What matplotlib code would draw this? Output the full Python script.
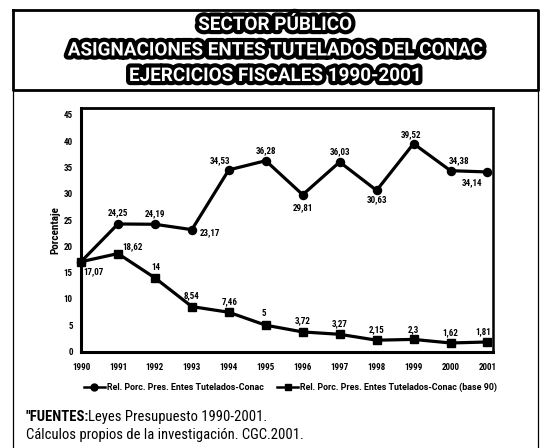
import matplotlib
matplotlib.use('Agg')
import matplotlib.pyplot as plt
from matplotlib import font_manager as fm
from matplotlib.lines import Line2D
import matplotlib.patheffects as pe

# ---------------- data ----------------
years = [1990, 1991, 1992, 1993, 1994, 1995, 1996, 1997, 1998, 1999, 2000, 2001]
rel_conac = [17.07, 24.25, 24.19, 23.17, 34.53, 36.28, 29.81, 36.03, 30.63, 39.52, 34.38, 34.14]
rel_base90 = [17.07, 18.62, 14, 8.54, 7.46, 5, 3.72, 3.27, 2.15, 2.3, 1.62, 1.81]
yticks = [0, 5, 10, 15, 20, 25, 30, 35, 40, 45]
series_names = ["Rel. Porc. Pres. Entes Tutelados-Conac",
                "Rel. Porc. Pres. Entes Tutelados-Conac (base 90)"]
title_lines = ["SECTOR PÚBLICO",
               "ASIGNACIONES ENTES TUTELADOS DEL CONAC",
               "EJERCICIOS FISCALES 1990-2001"]
ylabel = "Porcentaje"
foot_bold = '"FUENTES:'
foot_rest = 'Leyes Presupuesto 1990-2001.'
foot_line2 = 'Cálculos propios de la investigación. CGC.2001.'

# ---------------- fonts ----------------
avail = {f.name for f in fm.fontManager.ttflist}
def pick(cands, default='DejaVu Sans'):
    for c in cands:
        if c in avail:
            return c
    return default

COND = pick(['Roboto Condensed', 'Arial Narrow', 'Liberation Sans Narrow',
             'Archivo Narrow', 'PT Sans Narrow'])
WIDE = pick(['Roboto', 'Liberation Sans', 'DejaVu Sans'])
stretch = 'condensed' if COND == 'DejaVu Sans' else 'normal'

W, H = 546, 448
fig = plt.figure(figsize=(W / 100, H / 100), dpi=100)

def fx(px):
    return px / W

def fy(py):
    return 1 - py / H

# ---------------- frames ----------------
def fline(xs, ys, lw):
    fig.add_artist(Line2D([fx(x) for x in xs], [fy(y) for y in ys],
                          transform=fig.transFigure, color='black', lw=lw,
                          solid_capstyle='projecting'))

fline([12.7, 12.7], [90, 448], 0.9)
fline([537.7, 537.7], [90, 448], 0.9)
fline([12.7, 537.7, 537.7, 12.7, 12.7], [10, 10, 90.5, 90.5, 10], 2.0)

# ---------------- title ----------------
for i, t in enumerate(title_lines):
    fig.text(fx(275), fy(25 + 25.5 * i), t, ha='center', va='center',
             color='white', fontsize=13.6, fontweight='bold', family=WIDE,
             path_effects=[pe.withStroke(linewidth=6, foreground='black',
                                         joinstyle='round')])

# ---------------- axes ----------------
ax = fig.add_axes([fx(81), fy(351.5), fx(493) - fx(81), fy(108) - fy(351.5)])
ax.plot(years, rel_conac, color='black', lw=2.3, marker='o', ms=5.8,
        label=series_names[0], clip_on=False, zorder=3)
ax.plot(years, rel_base90, color='black', lw=2.3, marker='s', ms=6,
        label=series_names[1], clip_on=False, zorder=3)
ax.set_xlim(1990, 2001.15)
ax.set_ylim(0, 46.3)
ax.set_yticks(yticks)
ax.set_xticks(years)
lab_font = dict(family=COND, fontweight='bold', fontsize=6.5, fontstretch=stretch)
ax.set_yticklabels([str(v) for v in yticks], **lab_font)
ax.set_xticklabels([str(v) for v in years], **lab_font)
ax.tick_params(axis='both', length=0)
ax.tick_params(axis='y', pad=6)
ax.tick_params(axis='x', pad=8)
for side, lw in [('left', 2.2), ('bottom', 2.2), ('top', 2.0), ('right', 1.8)]:
    ax.spines[side].set_linewidth(lw)
ax.set_ylabel(ylabel, family=COND, fontweight='bold', fontsize=8,
              fontstretch=stretch, labelpad=2)

def fmt(v):
    return f"{v:g}".replace('.', ',')

off1 = [(12, -10), (0, 11), (0, 11), (18, -3), (-9, 9), (0, 10),
        (0, -13), (0, 10), (0, -9), (-3, 9), (9, 10), (-15, -11)]
off2 = [None, (15, 7), (1, 10), (0, 11), (1, 11), (-2, 12),
        (0, 11), (0, 11), (0, 10), (0, 10), (0, 10), (-4, 10)]
for x, v, o in zip(years, rel_conac, off1):
    ax.annotate(fmt(v), (x, v), xytext=o, textcoords='offset pixels',
                ha='center', va='center', **lab_font)
for x, v, o in zip(years, rel_base90, off2):
    if o is None:
        continue
    ax.annotate(fmt(v), (x, v), xytext=o, textcoords='offset pixels',
                ha='center', va='center', **lab_font)

# ---------------- legend ----------------
leg = fig.legend(loc='center', bbox_to_anchor=(fx(290.5), fy(387)), ncol=2,
                 frameon=False, handlelength=2.4, columnspacing=1.45,
                 handletextpad=0.22, borderpad=0, borderaxespad=0,
                 prop=dict(family=WIDE, weight='bold', size=6.4))
for h in leg.legend_handles:
    h.set_linewidth(1.8)
    h.set_markersize(5)

# ---------------- footnote ----------------
t1 = fig.text(fx(26), fy(417), foot_bold, ha='left', va='center',
              family=COND, fontweight='bold', fontsize=10.5, fontstretch=stretch)
fig.canvas.draw()
bb = t1.get_window_extent()
fig.text((bb.x1 - 1) / W, fy(417), foot_rest, ha='left', va='center',
         family=COND, fontsize=10.5, fontstretch=stretch)
fig.text(fx(26), fy(435), foot_line2, ha='left', va='center',
         family=COND, fontsize=10.5, fontstretch=stretch)

fig.savefig('out.png', dpi=100)
